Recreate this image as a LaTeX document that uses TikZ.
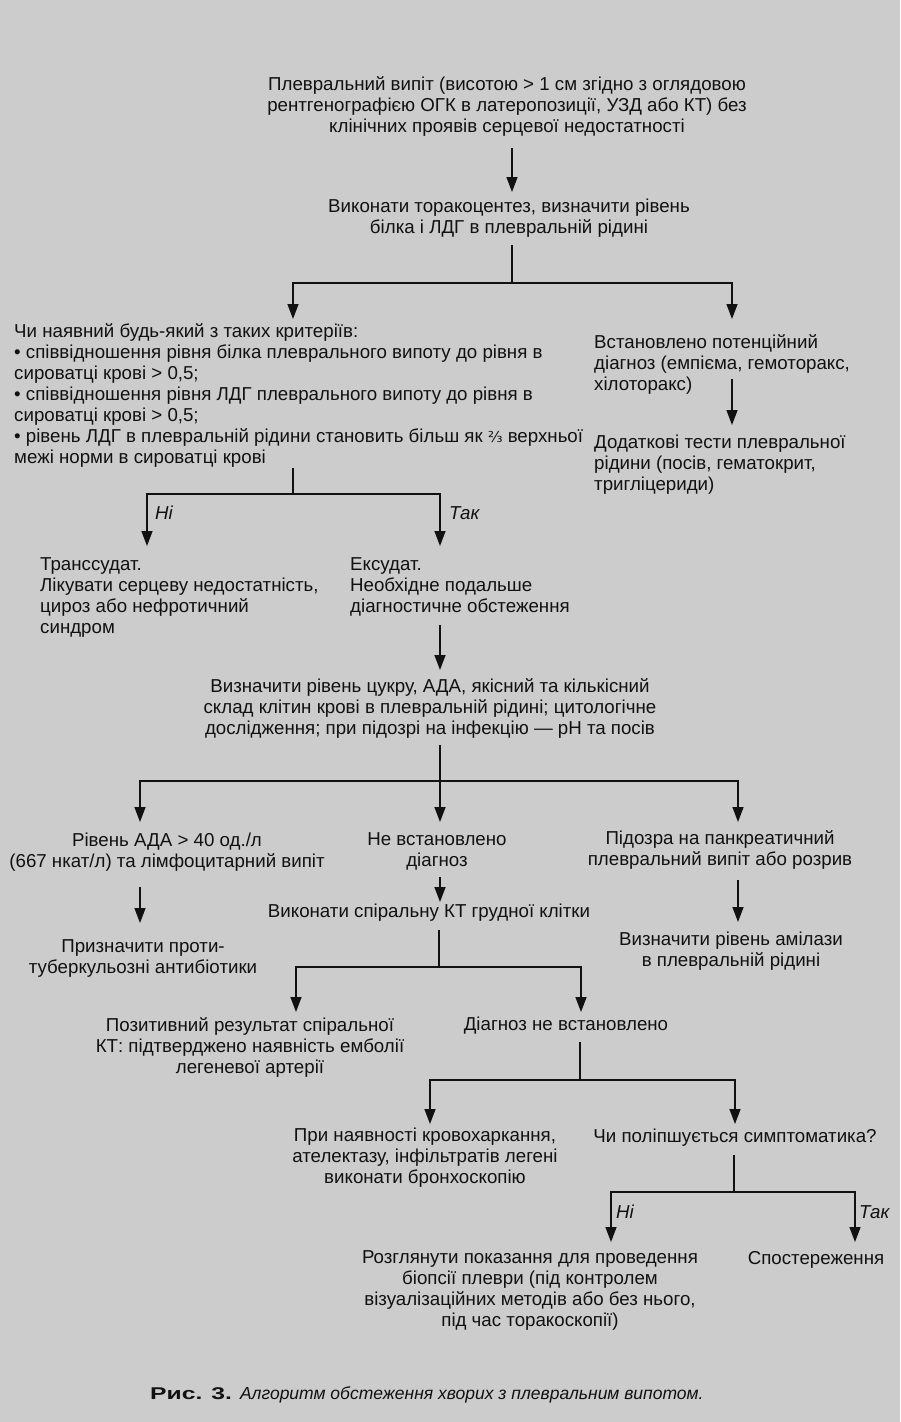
\documentclass[tikz,border=0pt]{standalone}
\usepackage{fontspec}
\setmainfont{Liberation Sans}
\newfontfamily\djv{DejaVu Sans}
\newfontfamily\capbold[FakeStretch=1.45]{Liberation Sans}
\newfontfamily\capit{Liberation Sans}
\usetikzlibrary{arrows.meta}
\definecolor{bg}{HTML}{CCCCCC}
\definecolor{ink}{HTML}{111111}
\begin{document}
\begin{tikzpicture}[x=1pt,y=-1pt,
  txt/.style={font=\fontsize{18.7}{21}\selectfont, inner sep=0pt, align=center, text=ink},
  txtl/.style={txt, align=left},
  lbl/.style={font=\fontsize{18.7}{21}\selectfont\itshape, inner sep=0pt, text=ink},
  ln/.style={line width=1.4pt, draw=ink},
  arr/.style={ln, -{Triangle[length=15pt,width=11pt]}}]
\fill[bg] (0,0) rectangle (900,1422);
\useasboundingbox (0,0) rectangle (900,1422);

% ---- nodes ----
\node[txt] (n1) at (507,106) {Плевральний випіт (висотою > 1 см згідно з оглядовою\\рентгенографією ОГК в латеропозиції, УЗД або КТ) без\\клінічних проявів серцевої недостатності};
\node[txt] (n2) at (509,218.5) {Виконати торакоцентез, визначити рівень\\білка і ЛДГ в плевральній рідині};
\node[txtl, anchor=west] (crit) at (14,395) {Чи наявний будь-який з таких критеріїв:\\• співвідношення рівня білка плеврального випоту до рівня в\\сироватці крові > 0,5;\\• співвідношення рівня ЛДГ плеврального випоту до рівня в\\сироватці крові > 0,5;\\• рівень ЛДГ в плевральній рідини становить більш як {\djv\fontsize{15}{15}\selectfont ⅔} верхньої\\межі норми в сироватці крові};
\node[txtl, anchor=west] (diag) at (594,364) {Встановлено потенційний\\діагноз (емпієма, гемоторакс,\\хілоторакс)};
\node[txtl, anchor=west] (tests) at (594,465) {Додаткові тести плевральної\\рідини (посів, гематокрит,\\тригліцериди)};
\node[txtl, anchor=west] (trans) at (40,597) {Транссудат.\\Лікувати серцеву недостатність,\\цироз або нефротичний\\синдром};
\node[txtl, anchor=west] (exud) at (350,587) {Ексудат.\\Необхідне подальше\\діагностичне обстеження};
\node[txt] (n3) at (430,708) {Визначити рівень цукру, АДА, якісний та кількісний\\склад клітин крові в плевральній рідині; цитологічне\\дослідження; при підозрі на інфекцію — pH та посів};
\node[txt] (ada) at (167,852) {Рівень АДА > 40 од./л\\(667 нкат/л) та лімфоцитарний випіт};
\node[txt] (nod) at (437,851) {Не встановлено\\діагноз};
\node[txt] (panc) at (720,850) {Підозра на панкреатичний\\плевральний випіт або розрив};
\node[txt] (tb) at (143,958) {Призначити проти-\\туберкульозні антибіотики};
\node[txt] (ct) at (429,913) {Виконати спіральну КТ грудної клітки};
\node[txt] (amy) at (731,951) {Визначити рівень амілази\\в плевральній рідині};
\node[txt] (pos) at (250,1047) {Позитивний результат спіральної\\КТ: підтверджено наявність емболії\\легеневої артерії};
\node[txt] (nd2) at (566,1026) {Діагноз не встановлено};
\node[txt] (bron) at (425,1158) {При наявності кровохаркання,\\ателектазу, інфільтратів легені\\виконати бронхоскопію};
\node[txt] (impr) at (735,1138) {Чи поліпшується симптоматика?};
\node[txt] (biop) at (530,1290.5) {Розглянути показання для проведення\\біопсії плеври (під контролем\\візуалізаційних методів або без нього,\\під час торакоскопії)};
\node[txt] (obs) at (816,1260) {Спостереження};

\node[lbl, anchor=west] (no1) at (155,513) {Ні};
\node[lbl, anchor=west] (yes1) at (449,513) {Так};
\node[lbl, anchor=west] (no2) at (616,1212) {Ні};
\node[lbl, anchor=west] (yes2) at (859,1212) {Так};

\node[inner sep=0pt, anchor=base west, text=ink] (cap) at (150,1399)
  {{\capbold\bfseries\fontsize{17}{17}\selectfont Рис. 3.}\hspace{8pt}{\capit\itshape\fontsize{17.5}{18}\selectfont Алгоритм обстеження хворих з плевральним випотом.}};

% ---- coordinates ----
\coordinate (a1s) at (512,148);  \coordinate (a1e) at (512,192);
\coordinate (b1s) at (512,245);  \coordinate (b1j) at (512,283);
\coordinate (b1l) at (293,283);  \coordinate (b1le) at (293,319);
\coordinate (b1r) at (732,283);  \coordinate (b1re) at (732,319);
\coordinate (a2s) at (732,379);  \coordinate (a2e) at (732,425);
\coordinate (b2s) at (293,468);  \coordinate (b2j) at (293,494);
\coordinate (b2l) at (147,494);  \coordinate (b2le) at (147,546);
\coordinate (b2r) at (440,494);  \coordinate (b2re) at (440,546);
\coordinate (a3s) at (440,625);  \coordinate (a3e) at (440,670);
\coordinate (b3s) at (440,745);  \coordinate (b3j) at (440,781);
\coordinate (b3l) at (140,781);  \coordinate (b3le) at (140,822);
\coordinate (b3m) at (440,781);  \coordinate (b3me) at (440,822);
\coordinate (b3r) at (738,781);  \coordinate (b3re) at (738,822);
\coordinate (a4s) at (140,887);  \coordinate (a4e) at (140,923);
\coordinate (a5s) at (440,877);  \coordinate (a5e) at (440,902);
\coordinate (a6s) at (738,880);  \coordinate (a6e) at (738,922);
\coordinate (b4s) at (439,930);  \coordinate (b4j) at (439,967);
\coordinate (b4l) at (296,967);  \coordinate (b4le) at (296,1012);
\coordinate (b4r) at (581,967);  \coordinate (b4re) at (581,1012);
\coordinate (b5s) at (580,1042); \coordinate (b5j) at (580,1080);
\coordinate (b5l) at (430,1080); \coordinate (b5le) at (430,1124);
\coordinate (b5r) at (735,1080); \coordinate (b5re) at (735,1124);
\coordinate (b6s) at (734,1155); \coordinate (b6j) at (734,1192);
\coordinate (b6l) at (611,1192); \coordinate (b6le) at (611,1242);
\coordinate (b6r) at (855,1192); \coordinate (b6re) at (855,1242);

% ---- connectors ----
\draw[arr] (a1s) -- (a1e);
\draw[ln] (b1s) -- (b1j);
\draw[arr] (b1j) -- (b1l) -- (b1le);
\draw[arr] (b1j) -- (b1r) -- (b1re);
\draw[arr] (a2s) -- (a2e);
\draw[ln] (b2s) -- (b2j);
\draw[arr] (b2j) -- (b2l) -- (b2le);
\draw[arr] (b2j) -- (b2r) -- (b2re);
\draw[arr] (a3s) -- (a3e);
\draw[ln] (b3s) -- (b3j);
\draw[arr] (b3j) -- (b3l) -- (b3le);
\draw[arr] (b3j) -- (b3r) -- (b3re);
\draw[arr] (b3m) -- (b3me);
\draw[arr] (a4s) -- (a4e);
\draw[arr] (a5s) -- (a5e);
\draw[arr] (a6s) -- (a6e);
\draw[ln] (b4s) -- (b4j);
\draw[arr] (b4j) -- (b4l) -- (b4le);
\draw[arr] (b4j) -- (b4r) -- (b4re);
\draw[ln] (b5s) -- (b5j);
\draw[arr] (b5j) -- (b5l) -- (b5le);
\draw[arr] (b5j) -- (b5r) -- (b5re);
\draw[ln] (b6s) -- (b6j);
\draw[arr] (b6j) -- (b6l) -- (b6le);
\draw[arr] (b6j) -- (b6r) -- (b6re);
\end{tikzpicture}
\end{document}
